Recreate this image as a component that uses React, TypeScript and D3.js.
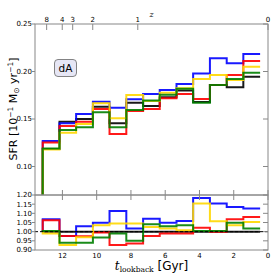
import * as d3 from 'd3'

// bin edges in lookback time (Gyr)
const edges = [13.15, 12.17, 11.2, 10.22, 9.25, 8.27, 7.29, 6.32, 5.34, 4.37, 3.39, 2.41, 1.44, 0.46]

// SFR per bin, top panel
const sfrBlack = [0.1185, 0.147, 0.150, 0.163, 0.1455, 0.1672, 0.1637, 0.173, 0.180, 0.168, 0.1858, 0.1833, 0.1945]
const sfrBlue = [0.1268, 0.1455, 0.1553, 0.1682, 0.1619, 0.1707, 0.1763, 0.1805, 0.1868, 0.198, 0.2139, 0.2086, 0.2184]
const sfrRed = [0.1253, 0.1426, 0.147, 0.1605, 0.1342, 0.1584, 0.1605, 0.1718, 0.1763, 0.171, 0.1858, 0.1963, 0.211]
const sfrYellow = [0.118, 0.1356, 0.1447, 0.1665, 0.1507, 0.1753, 0.169, 0.1777, 0.1823, 0.192, 0.1963, 0.191, 0.205]
const sfrGreen = [0.119, 0.1384, 0.1412, 0.157, 0.1412, 0.1595, 0.1695, 0.1755, 0.1818, 0.1672, 0.1858, 0.1921, 0.1987]

// ratio to black, bottom panel
const ratBlack = [1, 1, 1, 1, 1, 1, 1, 1, 1, 1, 1, 1, 1]
const ratBlue = [1.068, 0.977, 1.03, 1.048, 1.113, 1.017, 1.071, 1.048, 1.058, 1.184, 1.153, 1.135, 1.126]
const ratRed = [1.062, 0.977, 0.975, 0.995, 0.927, 0.935, 0.977, 0.99, 0.99, 1.022, 1.0, 1.068, 1.08]
const ratYellow = [0.99, 0.927, 0.97, 1.035, 1.044, 1.044, 1.026, 1.017, 1.008, 1.153, 1.057, 1.035, 1.053]
const ratGreen = [1.004, 0.94, 0.94, 0.968, 0.99, 0.95, 1.04, 1.03, 1.035, 1.003, 1.003, 1.048, 1.017]

const colors = ['#000000', '#0000ff', '#ff0000', '#ffd700', '#008000']
const topSeries = [sfrBlack, sfrBlue, sfrRed, sfrYellow, sfrGreen]
const botSeries = [ratBlack, ratBlue, ratRed, ratYellow, ratGreen]

const topTicks = [0.10, 0.15, 0.20, 0.25]
const botTicks = [0.90, 0.95, 1.00, 1.05, 1.10, 1.15, 1.20]
const tTicks = [12, 10, 8, 6, 4, 2, 0]
const zLabels = ['8', '4', '3', '2', '1', '0']
const zLookback = [12.92, 12.01, 11.4, 10.23, 7.6, 0]

const L = 35, R = 268, T = 24, M = 195, B = 250
const frame = '#888'
const font = 'DejaVu Sans'

export default function App() {
  const x = d3.scaleLinear().domain([13.6, 0]).range([L, R])
  const yTop = d3.scaleLinear().domain([0.07, 0.25]).range([M, T])
  const yBot = d3.scaleLinear().domain([0.9, 1.2]).range([B, M])

  const stepPath = (vals: number[], y: d3.ScaleLinear<number, number>, start: number) => {
    const pts: [number, number][] = [[edges[0], start]]
    vals.forEach((v, i) => pts.push([edges[i], v]))
    pts.push([edges[edges.length - 1], vals[vals.length - 1]])
    return d3.line<[number, number]>().x(d => x(d[0])).y(d => y(d[1])).curve(d3.curveStepAfter)(pts) || ''
  }

  return (
    <svg width={274} height={274} style={{ position: 'absolute', left: 0, top: 0 }} fontFamily={font}>
      <defs>
        <clipPath id="cTop"><rect x={L} y={T} width={R - L} height={M - T} /></clipPath>
        <clipPath id="cBot"><rect x={L} y={M} width={R - L} height={B - M} /></clipPath>
      </defs>
      <rect width={274} height={274} fill="#fff" />

      <g clipPath="url(#cTop)">
        {topSeries.map((s, i) => (
          <path key={i} d={stepPath(s, yTop, 0)} fill="none" stroke={colors[i]} strokeWidth={2} strokeOpacity={0.9} />
        ))}
      </g>
      <g clipPath="url(#cBot)">
        {botSeries.map((s, i) => (
          <path key={i} d={stepPath(s, yBot, 1)} fill="none" stroke={colors[i]} strokeWidth={2} strokeOpacity={0.9} />
        ))}
        <line x1={L} x2={R} y1={yBot(1)} y2={yBot(1)} stroke="#000" strokeWidth={1} strokeDasharray="3,2" />
      </g>

      {/* frames */}
      <rect x={L} y={T} width={R - L} height={M - T} fill="none" stroke={frame} strokeWidth={1} />
      <rect x={L} y={M} width={R - L} height={B - M} fill="none" stroke={frame} strokeWidth={1} />

      {/* top panel y ticks */}
      {topTicks.map(t => (
        <g key={t}>
          <line x1={L - 3} x2={L} y1={yTop(t)} y2={yTop(t)} stroke={frame} />
          <line x1={R - 5} x2={R} y1={yTop(t)} y2={yTop(t)} stroke={frame} />
          <text x={L - 3} y={yTop(t)} dy="0.35em" textAnchor="end" fontSize={7}>{t.toFixed(2)}</text>
        </g>
      ))}
      {/* bottom panel y ticks */}
      {botTicks.map(t => (
        <g key={t}>
          <line x1={L - 3} x2={L} y1={yBot(t)} y2={yBot(t)} stroke={frame} />
          <line x1={R - 5} x2={R} y1={yBot(t)} y2={yBot(t)} stroke={frame} />
          <text x={L - 3} y={yBot(t)} dy="0.35em" textAnchor="end" fontSize={7}>{t.toFixed(2)}</text>
        </g>
      ))}
      {/* lookback ticks */}
      {tTicks.map(t => (
        <g key={t}>
          <line x1={x(t)} x2={x(t)} y1={M - 5} y2={M + 5} stroke={frame} />
          <text x={x(t)} y={257.5} textAnchor="middle" fontSize={7}>{t}</text>
        </g>
      ))}
      {/* redshift ticks */}
      {zLabels.map((z, i) => (
        <g key={z}>
          <line x1={x(zLookback[i])} x2={x(zLookback[i])} y1={T} y2={T + 6} stroke={frame} />
          <text x={x(zLookback[i])} y={21.5} textAnchor="middle" fontSize={7}>{z}</text>
        </g>
      ))}
      <text x={151.7} y={17} textAnchor="middle" fontSize={8} fontFamily="DejaVu Serif" fontStyle="italic">z</text>

      {/* label box */}
      <rect x={54.5} y={59.5} width={22} height={17} rx={3.5} fill="#e6e6f5" stroke="#666" strokeWidth={0.8} />
      <text x={65.5} y={68} dy="0.36em" textAnchor="middle" fontSize={10.5}>dA</text>

      {/* axis labels */}
      <text transform="translate(17,109) rotate(-90)" textAnchor="middle" fontSize={11}>
        SFR [10<tspan fontSize={7.5} dy={-4.5}>−1</tspan>
        <tspan dy={4.5}> M</tspan><tspan fontSize={7.5} dy={2}>⊙</tspan>
        <tspan dy={-2}> yr</tspan><tspan fontSize={7.5} dy={-4.5}>−1</tspan><tspan dy={4.5}>]</tspan>
      </text>
      <text x={151.5} y={270} textAnchor="middle" fontSize={12}>
        <tspan fontFamily="DejaVu Serif" fontStyle="italic">t</tspan>
        <tspan fontFamily="DejaVu Serif" fontSize={7.5} dy={2}>lookback</tspan>
        <tspan dy={-2}> [Gyr]</tspan>
      </text>
    </svg>
  )
}
